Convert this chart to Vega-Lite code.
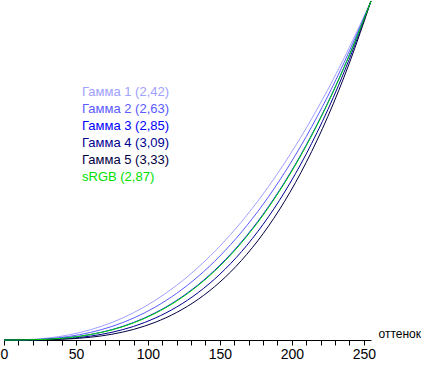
{
  "$schema": "https://vega.github.io/schema/vega-lite/v6.json",
  "autosize": "none",
  "width": 367,
  "height": 339,
  "padding": {"left": 4, "top": 1, "right": 50, "bottom": 26},
  "background": "white",
  "config": {"view": {"stroke": null}, "font": "Liberation Sans"},
  "datasets": {
    "curves": [
      {"s":"Гамма 1 (2,42)","x":0,"y":0},{"s":"Гамма 1 (2,42)","x":15,"y":0.0011},{"s":"Гамма 1 (2,42)","x":30,"y":0.0056},{"s":"Гамма 1 (2,42)","x":45,"y":0.0150},{"s":"Гамма 1 (2,42)","x":60,"y":0.0302},{"s":"Гамма 1 (2,42)","x":75,"y":0.0517},{"s":"Гамма 1 (2,42)","x":90,"y":0.0804},{"s":"Гамма 1 (2,42)","x":105,"y":0.1168},{"s":"Гамма 1 (2,42)","x":120,"y":0.1614},{"s":"Гамма 1 (2,42)","x":135,"y":0.2146},{"s":"Гамма 1 (2,42)","x":150,"y":0.2769},{"s":"Гамма 1 (2,42)","x":165,"y":0.3487},{"s":"Гамма 1 (2,42)","x":180,"y":0.4305},{"s":"Гамма 1 (2,42)","x":195,"y":0.5225},{"s":"Гамма 1 (2,42)","x":210,"y":0.6251},{"s":"Гамма 1 (2,42)","x":225,"y":0.7387},{"s":"Гамма 1 (2,42)","x":240,"y":0.8636},{"s":"Гамма 1 (2,42)","x":255,"y":1},
      {"s":"Гамма 2 (2,63)","x":0,"y":0},{"s":"Гамма 2 (2,63)","x":15,"y":0.0006},{"s":"Гамма 2 (2,63)","x":30,"y":0.0036},{"s":"Гамма 2 (2,63)","x":45,"y":0.0104},{"s":"Гамма 2 (2,63)","x":60,"y":0.0223},{"s":"Гамма 2 (2,63)","x":75,"y":0.0400},{"s":"Гамма 2 (2,63)","x":90,"y":0.0646},{"s":"Гамма 2 (2,63)","x":105,"y":0.0969},{"s":"Гамма 2 (2,63)","x":120,"y":0.1377},{"s":"Гамма 2 (2,63)","x":135,"y":0.1878},{"s":"Гамма 2 (2,63)","x":150,"y":0.2477},{"s":"Гамма 2 (2,63)","x":165,"y":0.3183},{"s":"Гамма 2 (2,63)","x":180,"y":0.4001},{"s":"Гамма 2 (2,63)","x":195,"y":0.4939},{"s":"Гамма 2 (2,63)","x":210,"y":0.6001},{"s":"Гамма 2 (2,63)","x":225,"y":0.7195},{"s":"Гамма 2 (2,63)","x":240,"y":0.8526},{"s":"Гамма 2 (2,63)","x":255,"y":1},
      {"s":"Гамма 3 (2,85)","x":0,"y":0},{"s":"Гамма 3 (2,85)","x":15,"y":0.0003},{"s":"Гамма 3 (2,85)","x":30,"y":0.0022},{"s":"Гамма 3 (2,85)","x":45,"y":0.0071},{"s":"Гамма 3 (2,85)","x":60,"y":0.0162},{"s":"Гамма 3 (2,85)","x":75,"y":0.0306},{"s":"Гамма 3 (2,85)","x":90,"y":0.0514},{"s":"Гамма 3 (2,85)","x":105,"y":0.0798},{"s":"Гамма 3 (2,85)","x":120,"y":0.1167},{"s":"Гамма 3 (2,85)","x":135,"y":0.1632},{"s":"Гамма 3 (2,85)","x":150,"y":0.2204},{"s":"Гамма 3 (2,85)","x":165,"y":0.2892},{"s":"Гамма 3 (2,85)","x":180,"y":0.3706},{"s":"Гамма 3 (2,85)","x":195,"y":0.4656},{"s":"Гамма 3 (2,85)","x":210,"y":0.5750},{"s":"Гамма 3 (2,85)","x":225,"y":0.7000},{"s":"Гамма 3 (2,85)","x":240,"y":0.8413},{"s":"Гамма 3 (2,85)","x":255,"y":1},
      {"s":"Гамма 4 (3,09)","x":0,"y":0},{"s":"Гамма 4 (3,09)","x":15,"y":0.0002},{"s":"Гамма 4 (3,09)","x":30,"y":0.0013},{"s":"Гамма 4 (3,09)","x":45,"y":0.0047},{"s":"Гамма 4 (3,09)","x":60,"y":0.0114},{"s":"Гамма 4 (3,09)","x":75,"y":0.0228},{"s":"Гамма 4 (3,09)","x":90,"y":0.0400},{"s":"Гамма 4 (3,09)","x":105,"y":0.0645},{"s":"Гамма 4 (3,09)","x":120,"y":0.0974},{"s":"Гамма 4 (3,09)","x":135,"y":0.1401},{"s":"Гамма 4 (3,09)","x":150,"y":0.1940},{"s":"Гамма 4 (3,09)","x":165,"y":0.2605},{"s":"Гамма 4 (3,09)","x":180,"y":0.3409},{"s":"Гамма 4 (3,09)","x":195,"y":0.4365},{"s":"Гамма 4 (3,09)","x":210,"y":0.5488},{"s":"Гамма 4 (3,09)","x":225,"y":0.6793},{"s":"Гамма 4 (3,09)","x":240,"y":0.8292},{"s":"Гамма 4 (3,09)","x":255,"y":1},
      {"s":"Гамма 5 (3,33)","x":0,"y":0},{"s":"Гамма 5 (3,33)","x":15,"y":0.0001},{"s":"Гамма 5 (3,33)","x":30,"y":0.0008},{"s":"Гамма 5 (3,33)","x":45,"y":0.0031},{"s":"Гамма 5 (3,33)","x":60,"y":0.0081},{"s":"Гамма 5 (3,33)","x":75,"y":0.0170},{"s":"Гамма 5 (3,33)","x":90,"y":0.0312},{"s":"Гамма 5 (3,33)","x":105,"y":0.0521},{"s":"Гамма 5 (3,33)","x":120,"y":0.0813},{"s":"Гамма 5 (3,33)","x":135,"y":0.1203},{"s":"Гамма 5 (3,33)","x":150,"y":0.1708},{"s":"Гамма 5 (3,33)","x":165,"y":0.2347},{"s":"Гамма 5 (3,33)","x":180,"y":0.3135},{"s":"Гамма 5 (3,33)","x":195,"y":0.4093},{"s":"Гамма 5 (3,33)","x":210,"y":0.5239},{"s":"Гамма 5 (3,33)","x":225,"y":0.6592},{"s":"Гамма 5 (3,33)","x":240,"y":0.8172},{"s":"Гамма 5 (3,33)","x":255,"y":1},
      {"s":"sRGB (2,87)","x":0,"y":0},{"s":"sRGB (2,87)","x":15,"y":0.0003},{"s":"sRGB (2,87)","x":30,"y":0.0022},{"s":"sRGB (2,87)","x":45,"y":0.0069},{"s":"sRGB (2,87)","x":60,"y":0.0159},{"s":"sRGB (2,87)","x":75,"y":0.0298},{"s":"sRGB (2,87)","x":90,"y":0.0503},{"s":"sRGB (2,87)","x":105,"y":0.0784},{"s":"sRGB (2,87)","x":120,"y":0.1149},{"s":"sRGB (2,87)","x":135,"y":0.1612},{"s":"sRGB (2,87)","x":150,"y":0.2181},{"s":"sRGB (2,87)","x":165,"y":0.2867},{"s":"sRGB (2,87)","x":180,"y":0.3680},{"s":"sRGB (2,87)","x":195,"y":0.4631},{"s":"sRGB (2,87)","x":210,"y":0.5728},{"s":"sRGB (2,87)","x":225,"y":0.6982},{"s":"sRGB (2,87)","x":240,"y":0.8403},{"s":"sRGB (2,87)","x":255,"y":1}
    ]
  },
  "data": {"name": "curves"},
  "mark": {"type": "line", "strokeWidth": 1, "interpolate": "monotone"},
  "encoding": {
    "x": {
      "field": "x", "type": "quantitative",
      "scale": {"domain": [0, 255], "nice": false, "zero": false},
      "axis": {
        "orient": "bottom",
        "values": [0,10,20,30,40,50,60,70,80,90,100,110,120,130,140,150,160,170,180,190,200,210,220,230,240,250],
        "labelExpr": "datum.value % 50 === 0 ? datum.label : ''",
        "grid": false,
        "domainColor": "black",
        "domainWidth": 1,
        "tickColor": "black",
        "tickWidth": 1,
        "tickSize": 5,
        "labelColor": "black",
        "labelFont": "Liberation Sans",
        "labelFontSize": 14,
        "labelPadding": 2,
        "labelFlush": false,
        "labelOverlap": false,
        "title": "оттенок",
        "titleFont": "Liberation Sans",
        "titleFontSize": 12,
        "titleFontWeight": "normal",
        "titleColor": "black",
        "titleX": 374,
        "titleY": -3,
        "titleAlign": "left",
        "titleBaseline": "alphabetic",
        "encode": {
          "ticks": {"update": {"y2": {"signal": "datum.value % 50 === 0 ? 9 : 5"}}}
        }
      }
    },
    "y": {
      "field": "y", "type": "quantitative",
      "scale": {"domain": [0, 1], "nice": false},
      "axis": null
    },
    "color": {
      "field": "s", "type": "nominal",
      "scale": {
        "domain": ["Гамма 1 (2,42)","Гамма 2 (2,63)","Гамма 3 (2,85)","Гамма 4 (3,09)","Гамма 5 (3,33)","sRGB (2,87)"],
        "range": ["#a0a0ff","#5a5aff","#0000ff","#000090","#000040","#00e000"]
      },
      "legend": {
        "orient": "none",
        "legendX": 65,
        "legendY": 84,
        "title": null,
        "symbolSize": 0,
        "symbolStrokeWidth": 0,
        "symbolOpacity": 0,
        "labelOffset": 0,
        "labelFont": "Liberation Sans",
        "labelFontSize": 13,
        "rowPadding": 3,
        "padding": 0,
        "labelLimit": 300,
        "encode": {
          "labels": {"update": {"fill": {"scale": "color", "field": "value"}}}
        }
      }
    },
    "order": {"field": "x", "type": "quantitative"}
  }
}
